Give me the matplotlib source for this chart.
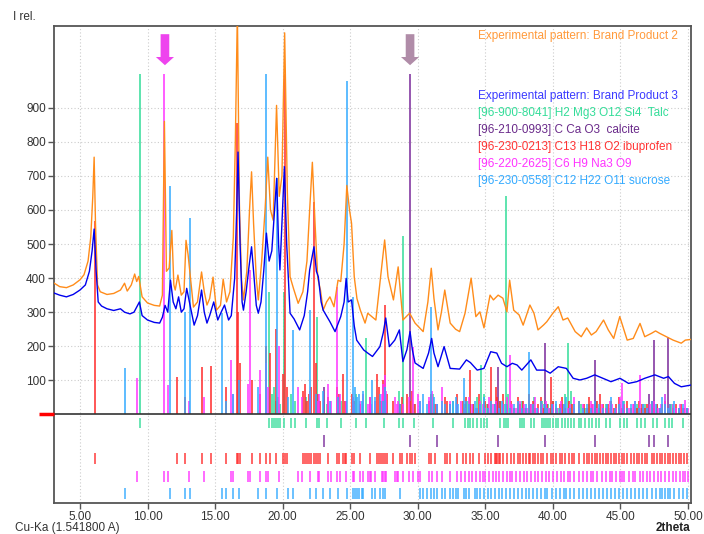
import matplotlib
matplotlib.use("Agg")
import matplotlib.pyplot as plt

plt.rcParams['font.family'] = ['Liberation Sans', 'DejaVu Sans']
plt.rcParams['font.size'] = 8

# experimental patterns (2theta, intensity)
product2 = [(3.1, 385), (3.5, 375), (4.0, 372), (4.5, 380), (5.0, 395), (5.3, 410), (5.6, 450), (5.8, 520),
            (5.95, 640), (6.05, 755), (6.15, 560), (6.3, 380), (6.5, 360), (7.0, 352), (7.5, 355), (8.0, 365),
            (8.3, 385), (8.5, 362), (8.8, 380), (9.05, 412), (9.2, 390), (9.35, 405), (9.6, 345), (10.0, 327),
            (10.5, 320), (10.9, 318), (11.1, 350), (11.25, 860), (11.4, 420), (11.6, 430), (11.8, 540),
            (11.95, 380), (12.05, 365), (12.25, 409), (12.5, 350), (12.7, 360), (12.85, 511), (13.0, 470),
            (13.2, 394), (13.4, 315), (13.7, 330), (14.0, 418), (14.2, 360), (14.4, 321), (14.6, 340),
            (14.85, 403), (15.1, 306), (15.4, 320), (15.6, 397), (15.85, 330), (16.1, 360), (16.35, 520),
            (16.5, 800), (16.65, 1180), (16.8, 620), (16.95, 400), (17.1, 336), (17.35, 420), (17.55, 600),
            (17.7, 712), (17.85, 560), (18.05, 400), (18.2, 336), (18.45, 450), (18.7, 600), (18.9, 755),
            (19.1, 600), (19.3, 570), (19.55, 907), (19.75, 640), (19.95, 700), (20.15, 1120), (20.35, 650),
            (20.55, 404), (20.8, 370), (21.15, 326), (21.5, 360), (21.8, 450), (22.0, 600), (22.2, 740),
            (22.4, 560), (22.6, 400), (22.8, 365), (23.0, 306), (23.25, 330), (23.5, 345), (23.8, 316),
            (24.1, 394), (24.3, 390), (24.55, 500), (24.75, 672), (24.95, 600), (25.1, 561), (25.3, 404),
            (25.5, 340), (25.75, 306), (26.1, 268), (26.3, 297), (26.6, 287), (26.9, 277), (27.2, 385),
            (27.55, 512), (27.8, 404), (28.2, 336), (28.55, 433), (28.9, 277), (29.1, 285), (29.4, 297),
            (29.8, 268), (30.4, 243), (30.75, 330), (31.0, 429), (31.2, 340), (31.5, 248), (31.75, 300),
            (32.0, 365), (32.4, 268), (32.8, 250), (33.1, 243), (33.5, 297), (33.95, 400), (34.3, 287),
            (34.6, 301), (34.9, 254), (35.35, 350), (35.6, 336), (35.95, 350), (36.3, 341), (36.6, 301),
            (36.8, 394), (37.1, 306), (37.5, 292), (37.8, 262), (38.3, 321), (38.6, 297), (38.9, 248),
            (39.3, 262), (39.55, 272), (40.0, 297), (40.4, 316), (40.75, 277), (41.1, 283), (41.65, 243),
            (42.1, 228), (42.5, 254), (42.85, 233), (43.2, 243), (43.75, 277), (44.1, 248), (44.5, 223),
            (44.95, 287), (45.5, 218), (45.95, 223), (46.45, 267), (46.8, 228), (47.3, 238), (47.6, 245),
            (47.9, 238), (48.4, 228), (48.9, 218), (49.5, 209), (49.8, 218), (50.2, 220)]

product3 = [(3.1, 356), (3.5, 350), (4.0, 345), (4.5, 352), (5.0, 365), (5.4, 380), (5.7, 420), (5.9, 480),
            (6.05, 544), (6.2, 420), (6.35, 330), (6.6, 318), (7.0, 310), (7.5, 305), (8.0, 310), (8.3, 300),
            (8.7, 295), (9.0, 300), (9.4, 330), (9.6, 290), (10.0, 277), (10.5, 270), (10.9, 268), (11.1, 285),
            (11.3, 320), (11.5, 300), (11.7, 394), (11.9, 330), (12.1, 310), (12.3, 345), (12.5, 300),
            (12.7, 310), (12.9, 370), (13.1, 330), (13.45, 262), (13.7, 290), (14.0, 365), (14.2, 300),
            (14.4, 268), (14.6, 290), (14.9, 330), (15.2, 277), (15.45, 300), (15.7, 321), (16.0, 277),
            (16.2, 290), (16.45, 400), (16.6, 600), (16.7, 770), (16.85, 500), (17.0, 330), (17.1, 306),
            (17.3, 360), (17.5, 430), (17.7, 492), (17.85, 420), (18.05, 320), (18.2, 297), (18.4, 330),
            (18.6, 420), (18.8, 532), (19.0, 450), (19.2, 480), (19.4, 600), (19.56, 693), (19.7, 500),
            (19.8, 424), (19.95, 560), (20.13, 727), (20.3, 500), (20.55, 297), (20.85, 280), (21.26, 248),
            (21.6, 290), (21.85, 360), (22.0, 424), (22.32, 492), (22.5, 420), (22.64, 404), (22.85, 330),
            (23.0, 306), (23.5, 272), (23.88, 243), (24.3, 287), (24.55, 330), (24.7, 399), (24.85, 330),
            (25.1, 336), (25.3, 260), (25.48, 218), (26.0, 189), (26.3, 180), (26.65, 170), (27.2, 199),
            (27.45, 240), (27.63, 283), (27.8, 230), (27.9, 199), (28.3, 218), (28.64, 248), (28.9, 155),
            (29.2, 190), (29.43, 243), (29.6, 190), (29.8, 151), (30.4, 135), (30.8, 180), (31.03, 223),
            (31.2, 180), (31.5, 140), (31.95, 199), (32.4, 135), (33.1, 133), (33.6, 160), (33.9, 152),
            (34.4, 130), (34.9, 135), (35.4, 184), (35.85, 180), (36.2, 150), (36.6, 140), (37.0, 150),
            (37.35, 145), (37.7, 130), (38.37, 160), (38.8, 130), (39.4, 130), (39.8, 121), (40.4, 140),
            (41.0, 135), (41.5, 106), (42.0, 101), (42.5, 106), (43.1, 116), (43.7, 106), (44.3, 96),
            (44.97, 106), (45.6, 91), (46.2, 96), (46.8, 106), (47.55, 116), (48.2, 106), (48.55, 111),
            (49.0, 91), (49.5, 81), (50.2, 86)]

# reference phases (2theta, relative intensity)
talc = [(9.45, 1000), (19.0, 360), (19.2, 60), (19.35, 80), (19.5, 40), (19.65, 50), (19.8, 30), (20.1, 360),
        (20.6, 60), (20.9, 40), (21.7, 50), (22.55, 287), (22.7, 40), (23.25, 30), (24.3, 40), (25.4, 60),
        (26.2, 224), (27.5, 40), (28.6, 70), (28.9, 523), (29.7, 30), (31.1, 60), (32.6, 40), (33.5, 30),
        (33.7, 40), (33.9, 30), (34.1, 30), (34.4, 50), (34.7, 145), (34.9, 60), (35.1, 30), (36.1, 40),
        (36.4, 30), (36.55, 640), (36.7, 60), (37.6, 30), (37.75, 40), (37.9, 20), (38.4, 30), (38.6, 50),
        (39.2, 40), (39.35, 30), (39.5, 20), (39.65, 30), (39.8, 20), (40.0, 40), (40.2, 30), (40.4, 20),
        (40.7, 30), (40.9, 60), (41.1, 209), (41.35, 70), (41.6, 30), (41.9, 20), (42.1, 30), (42.4, 20),
        (42.7, 30), (42.9, 20), (43.2, 40), (43.4, 20), (43.9, 30), (44.2, 20), (45.0, 30), (45.3, 40),
        (45.5, 20), (46.2, 30), (46.5, 20), (46.8, 30), (47.4, 20), (47.7, 30), (48.3, 60), (48.6, 20),
        (48.8, 30), (49.6, 20)]

calcite = [(23.05, 80), (29.4, 1000), (31.45, 30), (35.95, 140), (39.4, 209), (43.15, 160), (47.1, 60),
           (47.5, 218), (48.5, 228)]

ibuprofen = [(6.1, 567), (12.2, 111), (12.75, 50), (14.0, 140), (14.7, 142), (15.8, 80), (16.6, 855),
             (16.7, 300), (16.85, 150), (17.7, 100), (18.35, 60), (18.75, 200), (19.1, 180), (19.5, 250),
             (20.05, 120), (20.2, 1000), (20.3, 80), (21.5, 70), (21.65, 90), (21.8, 40), (21.95, 60),
             (22.1, 80), (22.3, 624), (22.45, 150), (22.6, 60), (22.8, 40), (23.35, 50), (24.0, 80),
             (24.2, 60), (24.45, 120), (24.6, 40), (24.7, 40), (25.1, 60), (25.3, 40), (25.7, 30), (26.45, 50),
             (26.95, 120), (27.1, 80), (27.3, 40), (27.45, 100), (27.6, 320), (27.7, 60), (28.2, 40),
             (28.7, 30), (28.8, 50), (29.2, 60), (29.4, 40), (29.6, 70), (29.8, 30), (30.8, 40), (31.0, 60),
             (31.3, 30), (32.0, 50), (32.2, 40), (32.4, 30), (32.9, 60), (33.35, 40), (33.6, 50), (33.9, 130),
             (34.1, 30), (34.5, 60), (35.0, 40), (35.2, 30), (35.45, 140), (35.7, 30), (35.8, 80), (35.9, 50),
             (36.0, 20), (36.1, 40), (36.3, 60), (36.6, 30), (36.9, 40), (37.1, 20), (37.4, 50), (37.6, 30),
             (37.8, 40), (38.0, 20), (38.2, 60), (38.3, 30), (38.5, 40), (38.7, 20), (38.9, 30), (39.1, 50),
             (39.3, 20), (39.6, 30), (39.85, 111), (40.0, 40), (40.2, 20), (40.5, 30), (40.7, 50), (40.9, 20),
             (41.2, 40), (41.4, 30), (41.6, 20), (41.9, 40), (42.3, 30), (42.5, 20), (42.7, 50), (42.9, 30),
             (43.1, 20), (43.3, 40), (43.5, 60), (43.7, 30), (43.9, 20), (44.1, 30), (44.3, 40), (44.5, 20),
             (44.7, 30), (44.9, 50), (45.1, 20), (45.3, 30), (45.5, 40), (45.8, 20), (46.0, 30), (46.2, 20),
             (46.4, 40), (46.6, 30), (46.8, 20), (47.0, 30), (47.3, 40), (47.5, 20), (47.7, 30), (47.9, 20),
             (48.1, 30), (48.3, 40), (48.5, 20), (48.7, 30), (48.9, 20), (49.1, 30), (49.3, 20), (49.5, 30),
             (49.7, 20), (49.9, 20)]

citrate = [(9.2, 107), (11.25, 1000), (11.55, 86), (13.05, 40), (14.2, 50), (16.15, 160), (16.35, 60),
           (17.4, 90), (17.6, 424), (18.3, 130), (18.8, 150), (18.9, 80), (19.7, 200), (21.15, 80), (21.4, 50),
           (22.0, 70), (22.6, 40), (22.7, 60), (23.35, 90), (23.55, 40), (24.0, 375), (24.25, 60), (24.7, 40),
           (25.2, 50), (25.3, 30), (25.75, 40), (25.95, 60), (26.35, 30), (26.45, 50), (26.55, 30),
           (26.85, 40), (27.35, 60), (27.45, 90), (27.55, 116), (27.65, 70), (28.3, 50), (28.45, 30),
           (28.55, 40), (28.9, 30), (29.35, 50), (29.65, 199), (30.05, 60), (30.15, 40), (30.8, 50),
           (31.05, 70), (31.4, 30), (31.8, 80), (32.4, 40), (32.9, 30), (33.2, 40), (33.5, 20), (33.8, 50),
           (34.0, 30), (34.3, 20), (34.6, 40), (34.8, 30), (35.0, 20), (35.3, 50), (35.6, 30), (35.8, 40),
           (36.0, 20), (36.3, 30), (36.6, 50), (36.8, 174), (37.0, 30), (37.3, 20), (37.6, 40), (37.9, 30),
           (38.1, 20), (38.4, 30), (38.7, 50), (38.9, 20), (39.2, 30), (39.5, 40), (39.7, 20), (40.0, 30),
           (40.3, 20), (40.6, 40), (40.8, 30), (41.1, 20), (41.3, 30), (41.6, 50), (41.9, 20), (42.2, 30),
           (42.5, 20), (42.8, 40), (43.0, 30), (43.3, 20), (43.6, 30), (43.9, 20), (44.2, 40), (44.4, 30),
           (44.7, 20), (45.0, 50), (45.1, 92), (45.3, 30), (45.6, 20), (45.9, 30), (46.1, 40), (46.45, 116),
           (46.7, 30), (47.0, 20), (47.2, 30), (47.5, 40), (47.8, 20), (48.0, 30), (48.3, 60), (48.6, 20),
           (48.9, 30), (49.1, 20), (49.4, 30), (49.6, 20), (49.8, 42), (50.0, 20)]

sucrose = [(8.3, 135), (11.7, 670), (12.75, 301), (13.15, 576), (15.5, 297), (15.8, 40), (16.35, 60),
           (16.8, 101), (18.15, 80), (18.8, 1000), (19.55, 693), (20.4, 50), (20.8, 248), (22.0, 306),
           (22.5, 60), (23.0, 70), (23.5, 40), (24.1, 50), (24.75, 980), (25.2, 345), (25.35, 80), (25.5, 50),
           (25.65, 60), (25.85, 40), (25.95, 70), (26.6, 101), (26.85, 50), (27.2, 60), (27.4, 40), (27.6, 80),
           (28.7, 30), (30.2, 40), (30.4, 60), (30.65, 30), (31.0, 316), (31.2, 50), (31.4, 30), (31.8, 40),
           (32.0, 30), (32.4, 30), (32.6, 40), (32.8, 50), (33.0, 30), (33.45, 106), (33.6, 40), (33.8, 30),
           (34.2, 40), (34.4, 20), (34.6, 30), (34.9, 50), (35.2, 20), (35.4, 40), (35.7, 30), (36.0, 20),
           (36.2, 40), (36.5, 30), (36.8, 20), (37.1, 30), (37.4, 40), (37.7, 20), (38.0, 30), (38.25, 184),
           (38.5, 30), (38.8, 20), (39.1, 40), (39.4, 30), (39.6, 20), (39.9, 30), (40.2, 40), (40.5, 20),
           (40.8, 30), (41.0, 50), (41.3, 20), (41.6, 30), (41.9, 40), (42.2, 20), (42.5, 30), (42.8, 20),
           (43.1, 40), (43.4, 30), (43.7, 20), (44.0, 30), (44.3, 50), (44.6, 20), (44.9, 30), (45.2, 40),
           (45.5, 20), (45.8, 30), (46.1, 40), (46.4, 20), (46.7, 30), (47.0, 20), (47.3, 40), (47.6, 30),
           (47.9, 20), (48.1, 50), (48.3, 30), (48.5, 20), (48.7, 30), (49.0, 40), (49.3, 20), (49.6, 30),
           (49.9, 20)]

labels = ["Experimental pattern: Brand Product 2",
          "Experimental pattern: Brand Product 3",
          "[96-900-8041] H2 Mg3 O12 Si4  Talc",
          "[96-210-0993] C Ca O3  calcite",
          "[96-230-0213] C13 H18 O2 ibuprofen",
          "[96-220-2625] C6 H9 Na3 O9",
          "[96-230-0558] C12 H22 O11 sucrose"]

xticks = [5, 10, 15, 20, 25, 30, 35, 40, 45, 50]
yticks = [100, 200, 300, 400, 500, 600, 700, 800, 900]
arrow_pos = [11.29, 29.43]

c_orange = '#ff8c1a'
c_blue = '#0000ee'
phases = [(talc, '#33dd99', -10, -40),
          (calcite, '#7a2a9a', -60, -95),
          (ibuprofen, '#ff2a2a', -113, -145),
          (citrate, '#ff33ff', -165, -198),
          (sucrose, '#33aaff', -215, -248)]
text_colors = ['#ff9a3a', '#3a3aff', '#33dd99', '#6a2a8a', '#ff3333', '#ff33ff', '#33aaff']
text_y = [36, 96, 113, 130, 147, 164, 181]

fig = plt.figure(figsize=(7.04, 5.34), dpi=100)
ax = fig.add_axes([0.0771, 0.0581, 0.9040, 0.8932])
ax.set_xlim(3.1, 50.2)
ax.set_ylim(-260, 1140)

ax.set_xticks(xticks)
ax.set_xticklabels(['%.2f' % v for v in xticks])
ax.set_yticks(yticks)
ax.set_yticklabels([str(v) for v in yticks])
ax.set_axisbelow(True)
ax.grid(True, ls=(0, (1, 2)), color='#cccccc', lw=0.8)

for data, col, lo, hi in phases:
    xs = [p for p, h in data]
    hs = [h for p, h in data]
    ax.vlines(xs, 0, hs, color=col, lw=1.3, alpha=0.85, zorder=2)
    ax.vlines(xs, lo, hi, color=col, lw=1.2, alpha=0.85, zorder=2)

ax.plot([p for p, h in product2], [h for p, h in product2], color=c_orange, lw=1.0, zorder=3)
ax.plot([p for p, h in product3], [h for p, h in product3], color=c_blue, lw=1.0, zorder=4)

ax.axhline(0, color='#333333', lw=1.2, zorder=5)
ax.plot([2.0, 3.1], [0, 0], color='#ff0000', lw=2.5, clip_on=False, solid_capstyle='butt', zorder=6)

# arrows marking the reference peaks
for x, col in zip(arrow_pos, ['#ee44ee', '#b08ca8']):
    sw, hw = 0.32, 0.67
    top, neck, tip = 1116, 1049, 1025
    ax.fill([x - sw, x + sw, x + sw, x + hw, x, x - hw, x - sw],
            [top, top, neck, neck, tip, neck, neck], color=col, lw=0, zorder=6)

for s in ax.spines.values():
    s.set_color('#555555')
    s.set_linewidth(1.3)
ax.tick_params(axis='both', direction='out', length=4, width=1, color='#555555',
               labelcolor='#333333', labelsize=8.5, pad=2)

for lab, col, yp in zip(labels, text_colors, text_y):
    fig.text(478 / 704, 1 - yp / 534, lab, color=col, ha='left', va='center', fontsize=8.5)

fig.text(13 / 704, 1 - 17 / 534, 'I rel.', color='#333333', ha='left', va='center', fontsize=8.5)
fig.text(15 / 704, 1 - 528 / 534, 'Cu-Ka (1.541800 A)', color='#333333', ha='left', va='center', fontsize=8.5)
fig.text(690 / 704, 1 - 528 / 534, '2theta', color='#222222', ha='right', va='center',
         fontsize=8.5, fontweight='bold')

fig.savefig('out.png', dpi=100)
